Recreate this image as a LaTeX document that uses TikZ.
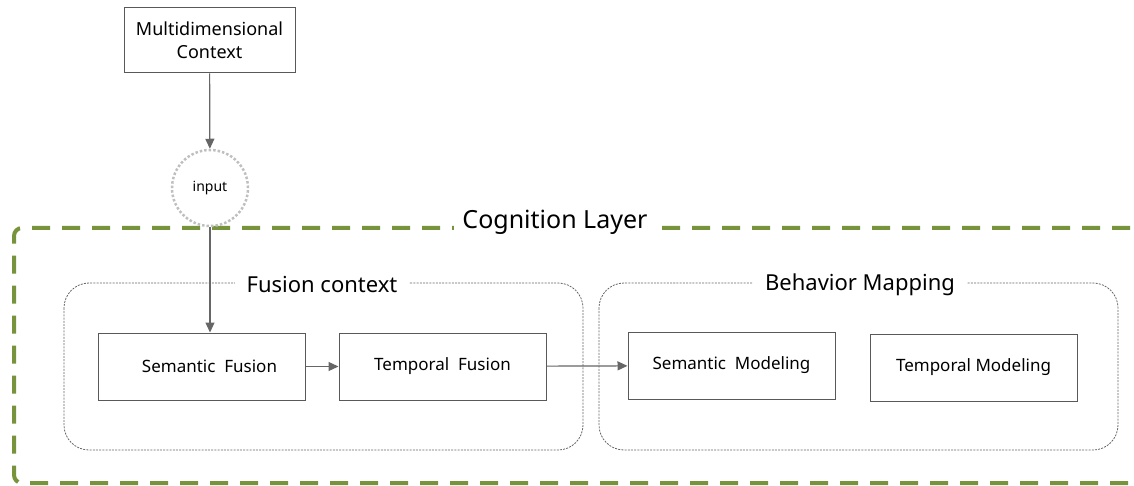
\documentclass[tikz,border=0pt]{standalone}
\usepackage{fontspec}
\setmainfont{Noto Sans}
\usetikzlibrary{arrows.meta}
\definecolor{olive}{HTML}{77933C}
\begin{document}
\begin{tikzpicture}[x=1pt,y=-1pt,
 box/.style={draw=black!65, line width=1pt, rectangle, minimum width=207pt, minimum height=67pt, font=\fontsize{17}{20}\selectfont, inner sep=0pt},
 group/.style={draw=black!60, line width=0.8pt, dash pattern=on 2pt off 1.2pt, rounded corners=25pt},
 grouptitle/.style={fill=white, font=\fontsize{22}{26}\selectfont, inner xsep=12pt, inner ysep=2pt},
 arr/.style={draw=black!60, line width=1.2pt, -{Triangle[length=10pt,width=9pt]}},
 layer/.style={draw=olive, line width=4pt, dash pattern=on 18pt off 12pt, rounded corners=8pt},
]
\useasboundingbox (0,0) rectangle (1134,486);
\clip (0,0) rectangle (1134,486);
% cognition layer
\draw[layer] (1160,228) -- (14,228) -- (14,483) -- (1160,483);
\node[fill=white, font=\fontsize{25}{29}\selectfont, inner xsep=8pt, inner ysep=2pt] (cl) at (555,222) {Cognition Layer};
% groups
\draw[group] (64,283) rectangle (583,450);
\node[grouptitle] (fc) at (322,285) {Fusion context};
\draw[group] (599,283) rectangle (1118,450);
\node[grouptitle] (bm) at (860,285) {Behavior Mapping};
% nodes
\node[box, minimum width=171pt, minimum height=65pt, align=center, font=\fontsize{18}{23}\selectfont] (mc) at (209.5,40.5) {Multidimensional\\Context};
\node[circle, draw=black!25, dotted, line width=2.5pt, minimum size=76pt, font=\fontsize{14}{16}\selectfont] (in) at (210,188) {input};
\node[box] (sf) at (201.5,366.5) {\hspace*{16pt}Semantic\ \ Fusion};
\node[box] (tf) at (442.5,366.5) {Temporal\ \ Fusion};
\node[box] (sm) at (731.5,365.5) {Semantic\ \ Modeling};
\node[box] (tm) at (973.5,367.5) {Temporal\ Modeling};
% connectors
\draw[arr] (mc) -- (in);
\draw[arr] (in) -- (in |- sf.north);
\draw[arr] (sf) -- (tf);
\draw[arr] (tf) -- (sm);
\end{tikzpicture}
\end{document}
